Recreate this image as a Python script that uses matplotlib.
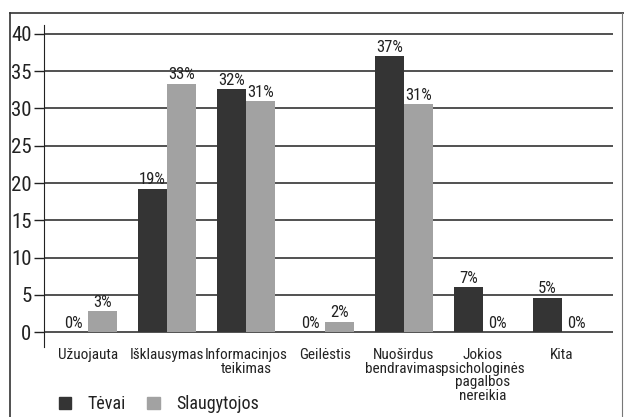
import numpy as np
import matplotlib.pyplot as plt
from matplotlib.lines import Line2D
from matplotlib.patches import Patch

plt.rcParams['font.family'] = ['Roboto Condensed', 'Liberation Sans Narrow', 'Liberation Sans', 'DejaVu Sans']

categories = ['Užuojauta', 'Išklausymas', 'Informacinjos\nteikimas', 'Geilėstis',
              'Nuoširdus\nbendravimas', 'Jokios\npsichologinės\npagalbos\nnereikia', 'Kita']
tevai = [0, 19.2, 32.6, 0, 37.0, 6.0, 4.6]
slaugytojos = [2.8, 33.3, 31.0, 1.4, 30.6, 0, 0]
tevai_labels = ['0%', '19%', '32%', '0%', '37%', '7%', '5%']
slaug_labels = ['3%', '33%', '31%', '2%', '31%', '0%', '0%']
yticks = [0, 5, 10, 15, 20, 25, 30, 35, 40]

dark = '#343434'
light = '#a2a2a2'
ink = '#222222'

fig = plt.figure(figsize=(6.24, 4.17), dpi=100)
ax = fig.add_axes([0.0705, 0.168, 0.912, 0.772])

x = np.arange(len(categories))
w = 0.37
ax.bar(x - w / 2, tevai, w, color=dark, zorder=3)
ax.bar(x + w / 2, slaugytojos, w, color=light, zorder=3)

for xi, v, lab in zip(x, tevai, tevai_labels):
    ax.text(xi - w / 2, v + 0.2, lab, ha='center', va='bottom', fontsize=12, color=ink)
for xi, v, lab in zip(x, slaugytojos, slaug_labels):
    ax.text(xi + w / 2, v + 0.2, lab, ha='center', va='bottom', fontsize=12, color=ink)

for t in yticks:
    ax.axhline(t, color=ink, lw=1.1, zorder=1)

ax.set_xlim(-0.56, 6.65)
ax.set_ylim(-2, 41.2)
ax.set_yticks(yticks)
ax.set_xticks(x)
ax.set_xticklabels(categories, fontsize=11, linespacing=0.95, color=ink)
ax.tick_params(axis='x', length=0, pad=1)
ax.tick_params(axis='y', length=7, width=1, labelsize=15, pad=2, colors=ink)
for s in ['top', 'right', 'bottom']:
    ax.spines[s].set_visible(False)
ax.spines['left'].set_color(ink)

handles = [Patch(color=dark), Patch(color=light)]
leg = fig.legend(handles, ['Tėvai', 'Slaugytojos'], loc='lower left', bbox_to_anchor=(0.068, -0.03),
                 ncol=2, frameon=False, fontsize=13, handlelength=0.7, handleheight=0.7,
                 columnspacing=1.2, handletextpad=0.9)
for t in leg.get_texts():
    t.set_color(ink)

# outer frame
fig.add_artist(Line2D([0.016, 0.016], [0, 0.969], color='#333333', lw=1.2))
fig.add_artist(Line2D([0.016, 1.0], [0.969, 0.969], color='#333333', lw=1.2))
fig.add_artist(Line2D([0.997, 0.997], [0, 0.969], color='#777777', lw=0.8))

fig.savefig('out.png', dpi=100)
